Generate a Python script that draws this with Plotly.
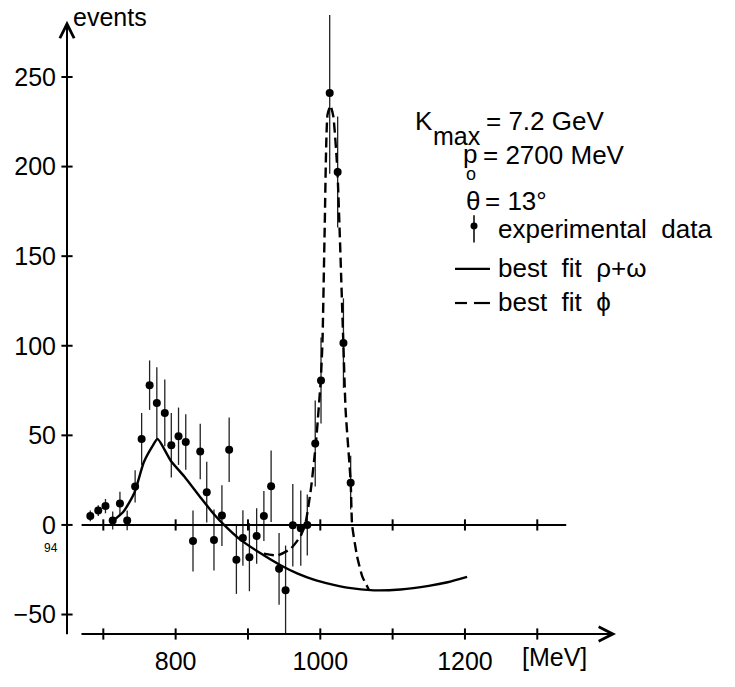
import plotly.graph_objects as go

# ---------------- data ----------------
mass = [682, 693, 703, 713, 723, 733, 744, 753, 764, 774,
        785, 794, 804, 814, 824, 834, 843, 853, 864, 874,
        884, 893, 902, 912, 922, 932, 943, 952, 962, 973,
        982, 993, 1001, 1013, 1024, 1032, 1042]
events = [5, 8, 10.5, 2.5, 12, 2.5, 21.5, 48, 78, 68,
          62.5, 44.5, 49.5, 46.3, -9, 41, 18.3, -8.4, 5.2, 42,
          -19.5, -7.3, -18, -6.2, 5, 21.6, -24.5, -36.5, -0.2, -1.8,
          0, 45.5, 80.6, 241, 197, 101.5, 23.6]
errors = [3, 3, 4, 5, 6.5, 5.5, 9, 14.5, 13.8, 20,
          18.6, 18, 16, 15.5, 17, 15.5, 17, 17, 17, 18,
          19, 15.5, 19, 15.5, 14, 20, 20, 25, 23, 21,
          17, 24, 24, 45, 31, 25, 15]

fit_rho_x = [714, 728, 743, 756, 768, 775, 793, 812, 835, 853, 867, 888,
             918, 945, 968, 991, 1014, 1037, 1074, 1111, 1150, 1176, 1203]
fit_rho_y = [2.5, 7.5, 18, 35, 44, 48, 36, 27, 15, 6, 0, -7.8,
             -16, -22.5, -27, -30.5, -33, -35, -36.5, -36, -34, -32, -29]

fit_phi_x = [922, 941, 959, 973, 980, 987, 994, 1000.5, 1003, 1006, 1010, 1014,
             1018, 1023.6, 1031.8, 1035, 1042, 1044, 1051, 1058, 1067]
fit_phi_y = [-16, -17, -13.3, -6, 2, 20, 46, 80, 102, 164, 229, 234,
             228, 198, 102, 64, 24, 0, -17.8, -28.7, -36]

x_tick_vals = [700, 800, 900, 1000, 1100, 1200, 1300]
x_tick_text = ["", "800", "", "1000", "", "1200", ""]
y_tick_vals = [-50, 0, 50, 100, 150, 200, 250]
zero_axis_x = [670, 1340]

# ---------------- layout geometry ----------------
W, H = 735, 687
L, R, T, B = 67, 100, 15, 38
PW, PH = W - L - R, H - T - B
X_RANGE = [649.8, 1435.1]
Y_RANGE = [-60.87, 284.6]
FONT = "Liberation Sans, Arial, sans-serif"


def px(xp):
    return (xp - L) / PW


def py(yp):
    return (H - B - yp) / PH


fig = go.Figure()

# experimental data with error bars
fig.add_trace(go.Scatter(
    x=mass, y=events, mode="markers",
    marker=dict(symbol="circle", size=8, color="black"),
    error_y=dict(type="data", array=errors, visible=True,
                 color="#222222", thickness=1.3, width=0),
    cliponaxis=False, showlegend=False))

# best fit rho + omega (solid)
fig.add_trace(go.Scatter(
    x=fit_rho_x, y=fit_rho_y, mode="lines",
    line=dict(color="black", width=2.4, shape="spline", smoothing=0.6),
    showlegend=False))

# best fit phi (dashed)
fig.add_trace(go.Scatter(
    x=fit_phi_x, y=fit_phi_y, mode="lines",
    line=dict(color="black", width=2.4, dash="10px,5px",
              shape="spline", smoothing=0.5),
    showlegend=False))

# zero line with tick marks
fig.add_trace(go.Scatter(
    x=zero_axis_x, y=[0, 0], mode="lines",
    line=dict(color="black", width=2), showlegend=False))
fig.add_trace(go.Scatter(
    x=x_tick_vals, y=[0] * len(x_tick_vals), mode="markers",
    marker=dict(symbol="line-ns", size=8, line=dict(color="black", width=2)),
    showlegend=False))

# bottom axis tick marks
fig.add_trace(go.Scatter(
    x=x_tick_vals, y=[Y_RANGE[0]] * len(x_tick_vals), mode="markers",
    marker=dict(symbol="line-ns", size=8, line=dict(color="black", width=2)),
    cliponaxis=False, showlegend=False))
# left axis tick marks
fig.add_trace(go.Scatter(
    x=[X_RANGE[0]] * len(y_tick_vals), y=y_tick_vals, mode="markers",
    marker=dict(symbol="line-ew", size=8, line=dict(color="black", width=2)),
    cliponaxis=False, showlegend=False))

annotations = []
# axis arrows
annotations.append(dict(xref="paper", yref="paper", x=px(616), y=py(649),
                        ax=-(616 - 80), ay=0, axref="pixel", ayref="pixel",
                        text="", showarrow=True, arrowhead=5, arrowsize=1.4,
                        arrowwidth=2, arrowcolor="black", standoff=0))
annotations.append(dict(xref="paper", yref="paper", x=px(67), y=py(21),
                        ax=0, ay=(636 - 21), axref="pixel", ayref="pixel",
                        text="", showarrow=True, arrowhead=5, arrowsize=1.4,
                        arrowwidth=2, arrowcolor="black", standoff=0))


def txt(s, xp, yp, size=26, anchor="left"):
    annotations.append(dict(xref="paper", yref="paper", x=px(xp), y=py(yp),
                            text=s, showarrow=False, xanchor=anchor,
                            yanchor="middle",
                            font=dict(family=FONT, size=size, color="black")))


txt("events", 71, 17, 25)
txt("[MeV]", 520, 673, 25)
txt("94", 51, 561, 12, "center")

txt("K", 413, 124)
txt("max", 431, 139, 25)
txt("= 7.2 GeV", 484, 124)
txt("p", 461, 157)
txt("o", 464, 178, 18)
txt("= 2700 MeV", 481, 158)
txt("θ", 464, 206)
txt("= 13°", 483, 206)
txt("experimental  data", 496, 234)
txt("best  fit  ρ+ω", 496, 274)
txt("best  fit  ϕ", 496, 309)

shapes = [
    dict(type="line", xref="paper", yref="paper", x0=px(474), x1=px(474),
         y0=py(220), y1=py(248), line=dict(color="black", width=1.5)),
    dict(type="circle", xref="paper", yref="paper", x0=px(470.5), x1=px(477.5),
         y0=py(227.5), y1=py(234.5), fillcolor="black", line=dict(width=0)),
    dict(type="line", xref="paper", yref="paper", x0=px(455), x1=px(490),
         y0=py(275), y1=py(275), line=dict(color="black", width=2.2)),
    dict(type="line", xref="paper", yref="paper", x0=px(455), x1=px(467),
         y0=py(310), y1=py(310), line=dict(color="black", width=2.2)),
    dict(type="line", xref="paper", yref="paper", x0=px(474), x1=px(490),
         y0=py(310), y1=py(310), line=dict(color="black", width=2.2)),
]

fig.update_layout(
    width=W, height=H,
    margin=dict(l=L, r=R, t=T, b=B, pad=0),
    paper_bgcolor="white", plot_bgcolor="white",
    showlegend=False,
    annotations=annotations, shapes=shapes,
    xaxis=dict(range=X_RANGE, showgrid=False, zeroline=False, showline=False,
               tickvals=x_tick_vals, ticktext=x_tick_text, ticks="",
               ticklabelstandoff=10,
               tickfont=dict(family=FONT, size=25, color="black")),
    yaxis=dict(range=Y_RANGE, showgrid=False, zeroline=False, showline=False,
               tickvals=y_tick_vals, ticks="", ticklabelstandoff=10,
               tickfont=dict(family=FONT, size=25, color="black")),
)

fig.write_html("out.html")
